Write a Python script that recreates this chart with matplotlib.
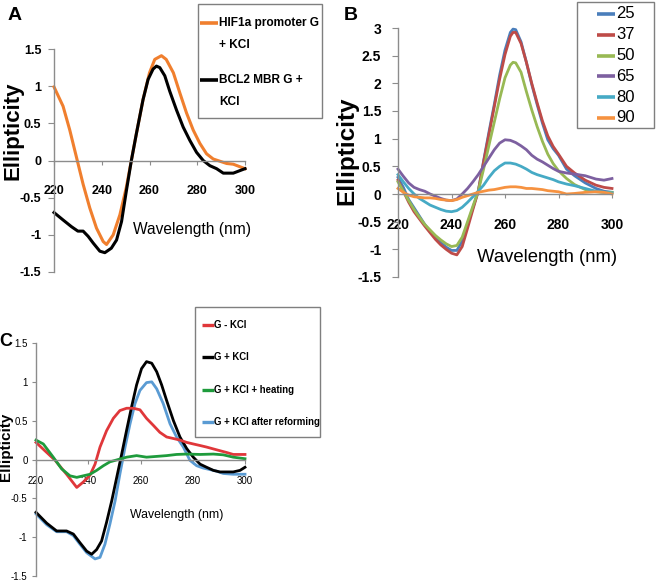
import matplotlib.pyplot as plt
from matplotlib.lines import Line2D
from matplotlib.patches import Rectangle
from matplotlib.ticker import FuncFormatter

plt.rcParams['font.family'] = ['Liberation Sans', 'DejaVu Sans']

# ---- panel A data ----
wl_hif = [220, 223.8, 226.6, 229.4, 232.2, 235, 237.8, 240.6, 242, 244.8, 247.6, 250.3, 252.4,
          254.5, 257.3, 260, 262.2, 265, 267, 270, 272.7, 275.5, 278.3, 281.1, 283.9, 286.7,
          289.5, 292.3, 295.1, 300]
el_hif = [0.99, 0.73, 0.41, 0.045, -0.32, -0.64, -0.91, -1.09, -1.13, -1.0, -0.73, -0.36, 0.0,
          0.36, 0.82, 1.18, 1.36, 1.41, 1.36, 1.18, 0.91, 0.64, 0.41, 0.23, 0.09, 0.02,
          -0.01, -0.04, -0.05, -0.11]
wl_bcl = [220, 223.8, 227.3, 230, 232.2, 234.3, 236.4, 239.2, 241.3, 244, 246.2, 248.3, 250.3,
          252.4, 254.5, 257.3, 259.4, 261.5, 262.9, 264.3, 266.4, 268.5, 271.3, 274.1, 276.9,
          279.7, 282.5, 285.3, 288.1, 290.9, 295.1, 300]
el_bcl = [-0.70, -0.80, -0.89, -0.95, -0.95, -1.02, -1.11, -1.22, -1.24, -1.18, -1.07, -0.82, -0.41,
          0.0, 0.36, 0.82, 1.09, 1.23, 1.27, 1.25, 1.14, 0.93, 0.68, 0.45, 0.27,
          0.11, 0.0, -0.07, -0.11, -0.17, -0.17, -0.11]
labels_a = [['HIF1a promoter G', '+ KCl'], ['BCL2 MBR G +', 'KCl']]

# ---- panel B data (temperature series) ----
wl_b = [220, 222, 224, 226, 228, 230, 232, 234, 236, 238, 240, 242, 244, 246, 248, 250, 252,
        254, 256, 258, 260, 262, 263, 264, 266, 268, 270, 272, 274, 276, 278, 280, 283, 286,
        290, 294, 297, 300]
temps = ['25', '37', '50', '65', '80', '90']
el_25 = [0.30, 0.12, -0.10, -0.25, -0.40, -0.55, -0.68, -0.78, -0.88, -0.96, -1.02, -1.02, -0.85,
         -0.55, -0.25, 0.05, 0.60, 1.12, 1.62, 2.15, 2.60, 2.92, 2.98, 2.97, 2.75, 2.38, 1.98,
         1.62, 1.28, 0.98, 0.82, 0.70, 0.45, 0.33, 0.20, 0.10, 0.05, 0.03]
el_37 = [0.25, 0.05, -0.15, -0.32, -0.45, -0.58, -0.70, -0.82, -0.92, -1.00, -1.07, -1.10, -0.95,
         -0.62, -0.28, 0.05, 0.58, 1.08, 1.58, 2.08, 2.52, 2.85, 2.92, 2.92, 2.72, 2.38, 2.00,
         1.65, 1.32, 1.05, 0.86, 0.72, 0.50, 0.38, 0.25, 0.16, 0.12, 0.10]
el_50 = [0.22, 0.05, -0.12, -0.28, -0.42, -0.55, -0.65, -0.75, -0.83, -0.90, -0.95, -0.93, -0.78,
         -0.50, -0.22, 0.05, 0.45, 0.88, 1.30, 1.72, 2.10, 2.33, 2.38, 2.37, 2.20, 1.85, 1.52,
         1.22, 0.95, 0.72, 0.55, 0.42, 0.28, 0.17, 0.08, 0.04, 0.03, 0.03]
el_65 = [0.45, 0.32, 0.20, 0.12, 0.08, 0.05, 0.00, -0.04, -0.08, -0.11, -0.12, -0.09, 0.00,
         0.10, 0.22, 0.35, 0.50, 0.65, 0.80, 0.92, 0.98, 0.97, 0.95, 0.93, 0.87, 0.80, 0.70,
         0.63, 0.58, 0.52, 0.46, 0.41, 0.38, 0.36, 0.33, 0.27, 0.25, 0.28]
el_80 = [0.35, 0.22, 0.10, 0.00, -0.08, -0.14, -0.20, -0.24, -0.28, -0.31, -0.32, -0.30, -0.24,
         -0.15, -0.05, 0.05, 0.16, 0.30, 0.42, 0.50, 0.56, 0.56, 0.55, 0.54, 0.50, 0.45, 0.39,
         0.35, 0.32, 0.29, 0.26, 0.22, 0.18, 0.15, 0.10, 0.05, 0.03, 0.02]
el_90 = [0.10, 0.03, -0.02, -0.05, -0.06, -0.07, -0.07, -0.08, -0.10, -0.11, -0.12, -0.10, -0.06,
         -0.03, 0.00, 0.03, 0.05, 0.07, 0.08, 0.10, 0.12, 0.13, 0.13, 0.13, 0.12, 0.10, 0.10,
         0.09, 0.08, 0.06, 0.05, 0.04, 0.00, 0.01, 0.03, 0.04, 0.03, 0.00]
temp_colors = ['#4A7EBB', '#BE4B48', '#98B954', '#7D60A0', '#46AAC5', '#F69240']

# ---- panel C data ----
wl_minus = [220, 227.3, 231.7, 235.6, 238.1, 240.7, 242.6, 244.5, 247, 249.6, 252.1, 254.7, 257.2,
            259.8, 262.3, 264.9, 267.4, 270, 272.6, 275.1, 277.7, 280.2, 282.8, 285.3, 289.1,
            293, 295.5, 300]
el_minus = [0.22, -0.01, -0.19, -0.36, -0.29, -0.20, -0.06, 0.16, 0.37, 0.53, 0.63, 0.66, 0.66,
            0.64, 0.53, 0.44, 0.35, 0.29, 0.27, 0.25, 0.22, 0.20, 0.18, 0.16, 0.125,
            0.09, 0.065, 0.065]
wl_plus = [220, 224.1, 227.9, 231.7, 234.3, 236.8, 239.4, 241.3, 243.2, 245.1, 247, 249, 250.9,
           252.8, 254.7, 256.6, 258.5, 260.4, 262.3, 264.3, 266.2, 268.1, 270, 272.6, 275.1,
           277.7, 280.2, 282.8, 285.3, 287.9, 290.4, 293, 295.5, 298.1, 300]
el_plus = [-0.68, -0.82, -0.92, -0.92, -0.96, -1.07, -1.18, -1.22, -1.16, -1.05, -0.81, -0.53, -0.23,
           0.07, 0.38, 0.68, 0.96, 1.17, 1.26, 1.24, 1.13, 0.96, 0.76, 0.50, 0.29,
           0.14, 0.03, -0.06, -0.10, -0.14, -0.16, -0.16, -0.16, -0.14, -0.10]
wl_heat = [220, 222.8, 226.6, 229.8, 233, 235.6, 238.1, 240.7, 243.2, 245.8, 248.3, 251.5, 254.7,
           258.5, 262.3, 266.2, 270, 273.8, 277.7, 282.8, 287.9, 291.7, 295.5, 300]
el_heat = [0.25, 0.20, 0.03, -0.12, -0.21, -0.23, -0.21, -0.19, -0.14, -0.08, -0.03, 0.00, 0.03,
           0.05, 0.03, 0.04, 0.05, 0.065, 0.07, 0.065, 0.07, 0.06, 0.03, 0.01]
wl_reform = [220, 224.1, 227.9, 231.7, 234.3, 236.8, 239.4, 242.6, 244.5, 246.4, 248.3, 250.3,
             252.1, 254.1, 256, 257.9, 259.8, 262.3, 264.3, 266.2, 268.7, 271.3, 273.8, 276.4,
             278.9, 281.5, 284, 286.6, 289.1, 291.7, 295.5, 300]
el_reform = [-0.70, -0.84, -0.93, -0.93, -0.98, -1.09, -1.20, -1.28, -1.26, -1.09, -0.83, -0.53,
             -0.19, 0.16, 0.46, 0.72, 0.89, 0.99, 1.00, 0.91, 0.72, 0.46, 0.29, 0.16,
             -0.01, -0.08, -0.11, -0.13, -0.15, -0.18, -0.19, -0.19]
labels_c = ['G - KCl', 'G + KCl', 'G + KCl + heating', 'G + KCl after reforming']

W, H = 656, 585
fig = plt.figure(figsize=(W / 100, H / 100), dpi=100)
GRAY = '#8C8C8C'


def axes_px(x0, x1, ytop, ybot):
    return fig.add_axes([x0 / W, 1 - ybot / H, (x1 - x0) / W, (ybot - ytop) / H])


def ftext(x, y, s, ha='center', **kw):
    fig.text(x / W, 1 - y / H, s, ha=ha, va='center', **kw)


def style(ax, ylim, ystep, fs, xpad, ypad, weight='bold', ylen=4):
    ax.set_xlim(220, 300)
    ax.set_ylim(*ylim)
    ax.patch.set_alpha(0)
    for s in ['top', 'right']:
        ax.spines[s].set_visible(False)
    ax.spines['bottom'].set_position(('data', 0))
    for s in ['left', 'bottom']:
        ax.spines[s].set_color(GRAY)
        ax.spines[s].set_linewidth(1.0)
    ticks = []
    v = ylim[0]
    while v <= ylim[1] + 1e-9:
        ticks.append(round(v, 2))
        v += ystep
    ax.set_yticks(ticks)
    ax.set_xticks([220, 240, 260, 280, 300])
    ax.yaxis.set_major_formatter(FuncFormatter(lambda v, p: '{:g}'.format(v)))
    ax.tick_params(axis='y', direction='out', length=ylen, color=GRAY, labelsize=fs, pad=ypad)
    ax.tick_params(axis='x', direction='out', length=3, color=GRAY, labelsize=fs, pad=xpad)
    for lab in ax.get_xticklabels() + ax.get_yticklabels():
        lab.set_fontweight(weight)


def legend_box(x0, x1, y0, y1):
    fig.patches.append(Rectangle((x0 / W, 1 - y1 / H), (x1 - x0) / W, (y1 - y0) / H,
                                 transform=fig.transFigure, fill=False,
                                 edgecolor='#7F7F7F', linewidth=1.0))


def swatch(x0, x1, y, color, lw):
    fig.add_artist(Line2D([x0 / W, x1 / W], [1 - y / H, 1 - y / H], color=color, lw=lw,
                          transform=fig.transFigure, solid_capstyle='butt'))


# ---------------- A ----------------
axA = axes_px(54, 245, 49, 272)
style(axA, (-1.5, 1.5), 0.5, 9, 15, 5)
axA.plot(wl_hif, el_hif, color='#F07F2E', lw=2.2, clip_on=False)
axA.plot(wl_bcl, el_bcl, color='black', lw=2.2, clip_on=False)
ftext(15, 16, 'A', fontsize=14, fontweight='bold')
ftext(13, 131, 'Ellipticity', fontsize=16, fontweight='bold', rotation=90)
ftext(192, 230, 'Wavelength (nm)', fontsize=11.2)
legend_box(198, 322, 4, 118)
for (l1, l2), c, y in zip(labels_a, ['#F07F2E', 'black'], [23, 80]):
    swatch(200, 218, y, c, 2.6)
    ftext(219, y, l1, ha='left', fontsize=8.6, fontweight='bold')
    ftext(219, y + 22, l2, ha='left', fontsize=8.6, fontweight='bold')

# ---------------- B ----------------
axB = axes_px(398, 612, 28, 277)
style(axB, (-1.5, 3), 0.5, 10, 14, 8)
b_series = [el_25, el_37, el_50, el_65, el_80, el_90]
for vals, c in zip(b_series, temp_colors):
    axB.plot(wl_b, vals, color=c, lw=2.0, clip_on=False)
ftext(351, 15, 'B', fontsize=14, fontweight='bold')
ftext(347, 151, 'Ellipticity', fontsize=17.5, fontweight='bold', rotation=90)
ftext(547, 257, 'Wavelength (nm)', fontsize=13.3)
legend_box(577, 654, 2, 128)
for i, (t, c) in enumerate(zip(temps, temp_colors)):
    y = 14 + i * 20.8
    swatch(597, 615, y, c, 2.6)
    ftext(616, y, t, ha='left', fontsize=12)

# ---------------- C ----------------
axC = axes_px(36, 245, 343, 576)
style(axC, (-1.5, 1.5), 0.5, 7, 9, 3, weight='normal', ylen=3)
c_colors = ['#E0373A', 'black', '#1E9B3C', '#5A9BD3']
axC.plot(wl_reform, el_reform, color=c_colors[3], lw=2.0, clip_on=False)
axC.plot(wl_plus, el_plus, color=c_colors[1], lw=2.0, clip_on=False)
axC.plot(wl_minus, el_minus, color=c_colors[0], lw=2.0, clip_on=False)
axC.plot(wl_heat, el_heat, color=c_colors[2], lw=2.0, clip_on=False)
ftext(6, 341, 'C', fontsize=13, fontweight='bold')
ftext(6.5, 447, 'Ellipticity', fontsize=11, fontweight='bold', rotation=90)
ftext(177, 515, 'Wavelength (nm)', fontsize=8.8)
legend_box(195, 320, 307, 437)
for i, (lab, c) in enumerate(zip(labels_c, c_colors)):
    y = 325 + i * 32.3
    swatch(202, 214, y, c, 2.4)
    ftext(214, y, lab, ha='left', fontsize=6.9, fontweight='bold')

fig.savefig('out.png', dpi=100)
